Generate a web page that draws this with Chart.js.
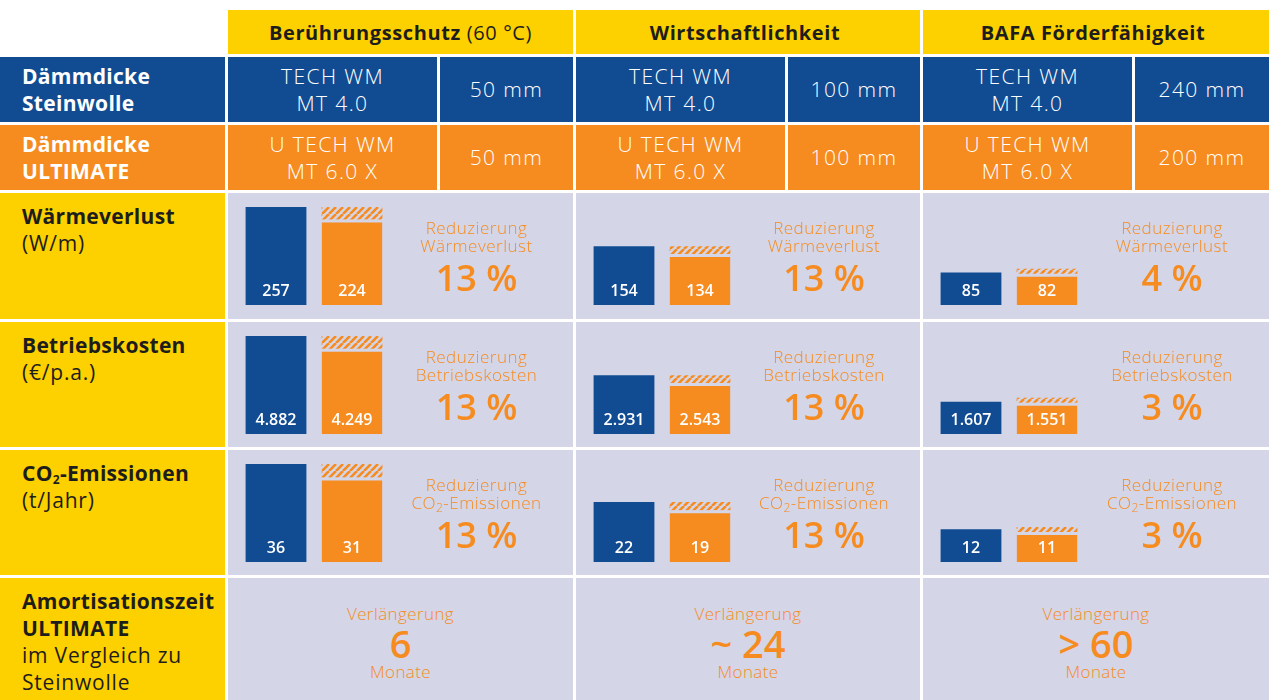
<!DOCTYPE html>
<html lang="de">
<head>
<meta charset="UTF-8">
<title>Dämmdicke Steinwolle vs. ULTIMATE</title>
<script src="https://cdn.jsdelivr.net/npm/chart.js"></script>
<style>
  body { margin: 0; background: #fff; font-family: "Open Sans", sans-serif; color: #1d1d1b; }
  #grid {
    display: grid;
    grid-template-columns: 225px 209px 133px 209px 132px 209px 134px;
    grid-template-rows: 44px 65px 65px 126px 125px 125px 122px;
    gap: 3px;
    margin-top: 10px;
    width: 1269px;
  }
  .cell { position: relative; overflow: hidden; }
  .yellow { background: #fdd000; }
  .blue { background: #114c93; color: #fff; }
  .orange { background: #f68b1f; color: #fff; }
  .grey { background: #d4d5e6; }
  .head { display: flex; align-items: center; justify-content: center; font-size: 20px; letter-spacing: 0.6px; }
  .head b { margin-right: 6px; }
  .rowlab { display: flex; flex-direction: column; justify-content: center; padding-left: 22px; font-size: 21px; font-weight: 700; line-height: 27px; letter-spacing: 0.3px; }
  .prod { display: flex; align-items: center; justify-content: center; text-align: center; font-size: 21px; font-weight: 300; line-height: 27px; letter-spacing: 1.4px; }
  .metric { padding: 10px 0 0 22px; font-size: 21px; line-height: 27px; letter-spacing: 0.8px; }
  .metric b { font-weight: 700; letter-spacing: 0.3px; }
  sub { font-size: 12px; line-height: 0; vertical-align: -3px; }
  .bars { position: absolute; left: 10px; top: 14px; width: 152px; height: 98px; }
  .red { position: absolute; left: 152px; right: 0; top: 26px; text-align: center; color: #f68b1f; font-size: 17px; line-height: 18px; font-weight: 300; letter-spacing: 0.5px; }
  .red .big { font-size: 36px; line-height: 46px; font-weight: 600; letter-spacing: 0; }
  .amort { position: absolute; left: 0; right: 0; top: 26px; text-align: center; color: #f68b1f; font-size: 17px; line-height: 20px; font-weight: 300; letter-spacing: 0.4px; }
  .amort .big { font-size: 38px; line-height: 38px; font-weight: 600; letter-spacing: 0; }
</style>
</head>
<body>
<div id="grid"></div>
<script>
  const BLUE = '#114c93';
  const ORANGE = '#f68b1f';
  const GREY = '#d4d5e6';

  const groups = ['Berührungsschutz', 'Wirtschaftlichkeit', 'BAFA Förderfähigkeit'];
  const groupNotes = ['(60 °C)', '', ''];
  const steinwolleProduct = ['TECH WM<br>MT 4.0', 'TECH WM<br>MT 4.0', 'TECH WM<br>MT 4.0'];
  const steinwolleThickness = ['50 mm', '100 mm', '240 mm'];
  const ultimateProduct = ['U TECH WM<br>MT 6.0 X', 'U TECH WM<br>MT 6.0 X', 'U TECH WM<br>MT 6.0 X'];
  const ultimateThickness = ['50 mm', '100 mm', '200 mm'];

  const waermeSteinwolle = [257, 154, 85];
  const waermeUltimate = [224, 134, 82];
  const waermeReduction = [13, 13, 4];

  const kostenSteinwolle = [4882, 2931, 1607];
  const kostenUltimate = [4249, 2543, 1551];
  const kostenReduction = [13, 13, 3];

  const co2Steinwolle = [36, 22, 12];
  const co2Ultimate = [31, 19, 11];
  const co2Reduction = [13, 13, 3];

  const amortisation = ['6', '~ 24', '> 60'];

  const metrics = [
    { label: '<b>Wärmeverlust</b><br>(W/m)', red: 'Reduzierung<br>Wärmeverlust',
      stein: waermeSteinwolle, ult: waermeUltimate, pct: waermeReduction },
    { label: '<b>Betriebskosten</b><br>(€/p.a.)', red: 'Reduzierung<br>Betriebskosten',
      stein: kostenSteinwolle, ult: kostenUltimate, pct: kostenReduction },
    { label: '<b>CO<sub>2</sub>-Emissionen</b><br>(t/Jahr)', red: 'Reduzierung<br>CO<sub>2</sub>-Emissionen',
      stein: co2Steinwolle, ult: co2Ultimate, pct: co2Reduction }
  ];

  const grid = document.getElementById('grid');
  function cell(cls, html, span) {
    const d = document.createElement('div');
    d.className = 'cell ' + cls;
    d.innerHTML = html || '';
    if (span) d.style.gridColumn = 'span ' + span;
    grid.appendChild(d);
    return d;
  }

  // header row
  cell('', '');
  groups.forEach((g, i) => cell('yellow head', '<b>' + g + '</b>' + groupNotes[i], 2));

  // thickness rows
  cell('blue rowlab', 'Dämmdicke<br>Steinwolle');
  groups.forEach((g, i) => {
    cell('blue prod', steinwolleProduct[i]);
    cell('blue prod', steinwolleThickness[i]);
  });
  cell('orange rowlab', 'Dämmdicke<br>ULTIMATE');
  groups.forEach((g, i) => {
    cell('orange prod', ultimateProduct[i]);
    cell('orange prod', ultimateThickness[i]);
  });

  function fmt(v) {
    return String(v).replace(/\B(?=(\d{3})+(?!\d))/g, '.');
  }

  function hatchPattern() {
    const s = 7;
    const c = document.createElement('canvas');
    c.width = s; c.height = s;
    const x = c.getContext('2d');
    x.fillStyle = GREY;
    x.fillRect(0, 0, s, s);
    x.strokeStyle = ORANGE;
    x.lineWidth = 2.6;
    x.beginPath();
    for (let k = -1; k <= 1; k++) {
      x.moveTo(k * s, s);
      x.lineTo(k * s + s, 0);
    }
    x.stroke();
    return x.createPattern(c, 'repeat');
  }

  // white value labels at the foot of each bar
  const valueLabels = {
    id: 'valueLabels',
    afterDatasetsDraw(chart) {
      const ctx = chart.ctx;
      const meta = chart.getDatasetMeta(0);
      ctx.save();
      ctx.fillStyle = '#fff';
      ctx.font = '600 16px "Open Sans", sans-serif';
      ctx.textAlign = 'center';
      ctx.textBaseline = 'middle';
      meta.data.forEach((bar, i) => {
        ctx.fillText(fmt(chart.data.datasets[0].data[i]), bar.x, bar.base - 14);
      });
      ctx.restore();
    }
  };

  function drawBars(canvas, stein, ult, max) {
    new Chart(canvas, {
      type: 'bar',
      data: {
        labels: ['Steinwolle', 'ULTIMATE'],
        datasets: [
          {
            data: [stein, ult],
            backgroundColor: [BLUE, ORANGE],
            borderColor: GREY,
            borderWidth: ctx => ctx.dataIndex === 1 ? { top: 3, bottom: 0, left: 0, right: 0 } : 0,
            borderSkipped: false,
            grouped: false,
            order: 1
          },
          {
            data: [null, [ult, stein]],
            backgroundColor: hatchPattern(),
            borderWidth: 0,
            grouped: false,
            minBarLength: 5,
            order: 2
          }
        ]
      },
      options: {
        responsive: true,
        maintainAspectRatio: false,
        animation: false,
        layout: { padding: 0 },
        barPercentage: 0.8,
        categoryPercentage: 1,
        plugins: { legend: { display: false }, tooltip: { enabled: false } },
        scales: {
          x: { display: false },
          y: { display: false, min: 0, max: max }
        }
      },
      plugins: [valueLabels]
    });
  }

  metrics.forEach(m => {
    cell('yellow metric', m.label);
    const max = Math.max(...m.stein);
    groups.forEach((g, i) => {
      const c = cell('grey', '', 2);
      const wrap = document.createElement('div');
      wrap.className = 'bars';
      const cv = document.createElement('canvas');
      wrap.appendChild(cv);
      c.appendChild(wrap);
      const t = document.createElement('div');
      t.className = 'red';
      t.innerHTML = m.red + '<div class="big">' + m.pct[i] + ' %</div>';
      c.appendChild(t);
      drawBars(cv, m.stein[i], m.ult[i], max);
    });
  });

  cell('yellow metric', '<b>Amortisationszeit<br>ULTIMATE</b><br>im Vergleich zu<br>Steinwolle');
  amortisation.forEach(a => {
    cell('grey', '<div class="amort">Verlängerung<div class="big">' + a + '</div><div>Monate</div></div>', 2);
  });
</script>
</body>
</html>
